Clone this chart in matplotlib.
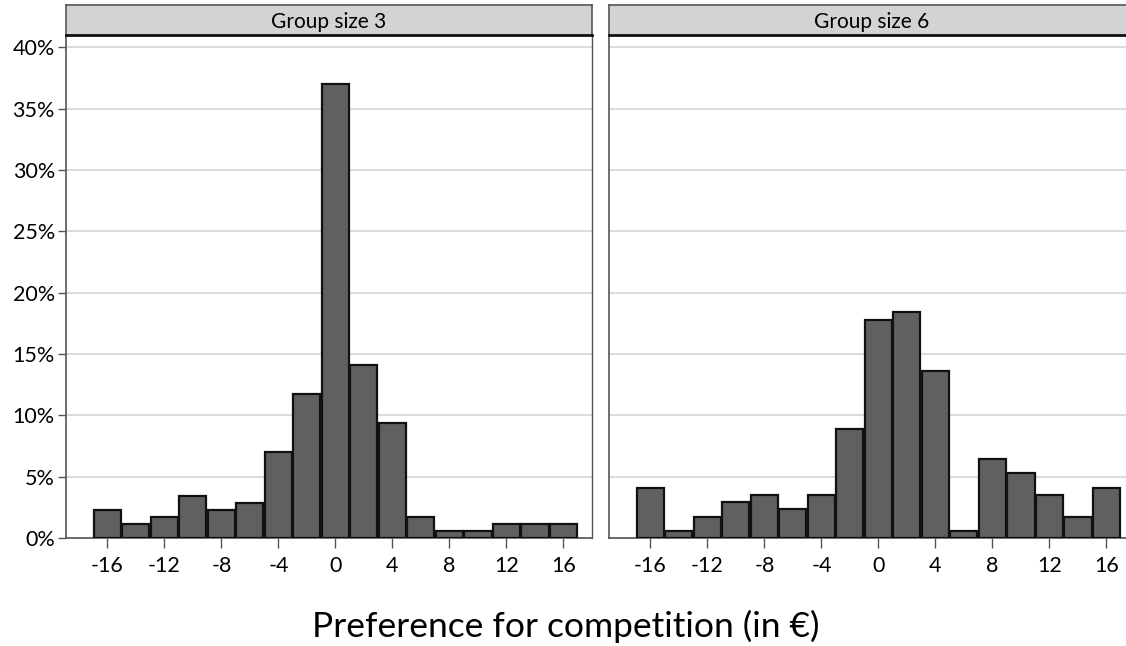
import matplotlib
matplotlib.use("Agg")
import matplotlib.pyplot as plt
import numpy as np

# Data
bins = [-16, -14, -12, -10, -8, -6, -4, -2, 0, 2, 4, 6, 8, 10, 12, 14, 16]
group3 = [2.29, 1.14, 1.71, 3.43, 2.29, 2.86, 6.98, 11.7, 37.0, 14.1, 9.35, 1.71, 0.57, 0.57, 1.14, 1.14, 1.14]
group6 = [4.07, 0.58, 1.74, 2.91, 3.49, 2.33, 3.49, 8.86, 17.8, 18.4, 13.6, 0.58, 6.46, 5.26, 3.49, 1.74, 4.07]
panel_titles = ["Group size 3", "Group size 6"]
xticks = [-16, -12, -8, -4, 0, 4, 8, 12, 16]
yticks = [0, 5, 10, 15, 20, 25, 30, 35, 40]
xlabel = "Preference for competition (in €)"

plt.rcParams['font.family'] = ['Lato', 'DejaVu Sans']

W, H = 1126, 646
fig = plt.figure(figsize=(W / 100, H / 100), dpi=100)

def fx(px):
    return px / W

def fy(py):
    return 1 - py / H

ax_top, ax_bot = 35, 538
strip_top = 5
lefts = [66, 609]
width = 526

for i, (vals, title) in enumerate(zip([group3, group6], panel_titles)):
    x0 = lefts[i]
    ax = fig.add_axes([fx(x0), fy(ax_bot), width / W, (ax_bot - ax_top) / H])
    ax.bar(bins, vals, width=1.9, color="#606060", edgecolor="#111111", linewidth=1.6, zorder=3)
    ax.set_xlim(-18.9, 18.0)
    ax.set_ylim(0, 41)
    ax.set_yticks(yticks)
    ax.yaxis.grid(True, color="#d4d4d4", linewidth=1.2, zorder=0)
    ax.set_axisbelow(True)
    ax.set_xticks(xticks)
    ax.set_xticklabels([str(t) for t in xticks], fontsize=15.5)
    ax.tick_params(axis='x', length=7, width=1, color="#555555", pad=6)
    if i == 0:
        ax.set_yticklabels([f"{t}%" for t in yticks], fontsize=15.5)
        ax.tick_params(axis='y', length=6, width=1, color="#555555", pad=2)
    else:
        ax.tick_params(axis='y', length=0, labelleft=False)
    for s in ['left', 'bottom']:
        ax.spines[s].set_color("#555555")
        ax.spines[s].set_linewidth(1.2)
    ax.spines['right'].set_color("#555555")
    ax.spines['right'].set_linewidth(1.0)
    ax.spines['top'].set_visible(False)

    # strip
    sax = fig.add_axes([fx(x0), fy(ax_top), width / W, (ax_top - strip_top) / H])
    sax.set_facecolor("#d3d3d3")
    sax.set_xticks([])
    sax.set_yticks([])
    for s in ['left', 'right', 'top']:
        sax.spines[s].set_color("#555555")
        sax.spines[s].set_linewidth(1.2)
    sax.spines['bottom'].set_color("#111111")
    sax.spines['bottom'].set_linewidth(2.0)
    sax.text(0.5, 0.45, title, ha='center', va='center', fontsize=15, transform=sax.transAxes)

fig.text(fx(566), fy(626), xlabel, ha='center', va='center', fontsize=25.5)

fig.savefig("out.png", dpi=100)
